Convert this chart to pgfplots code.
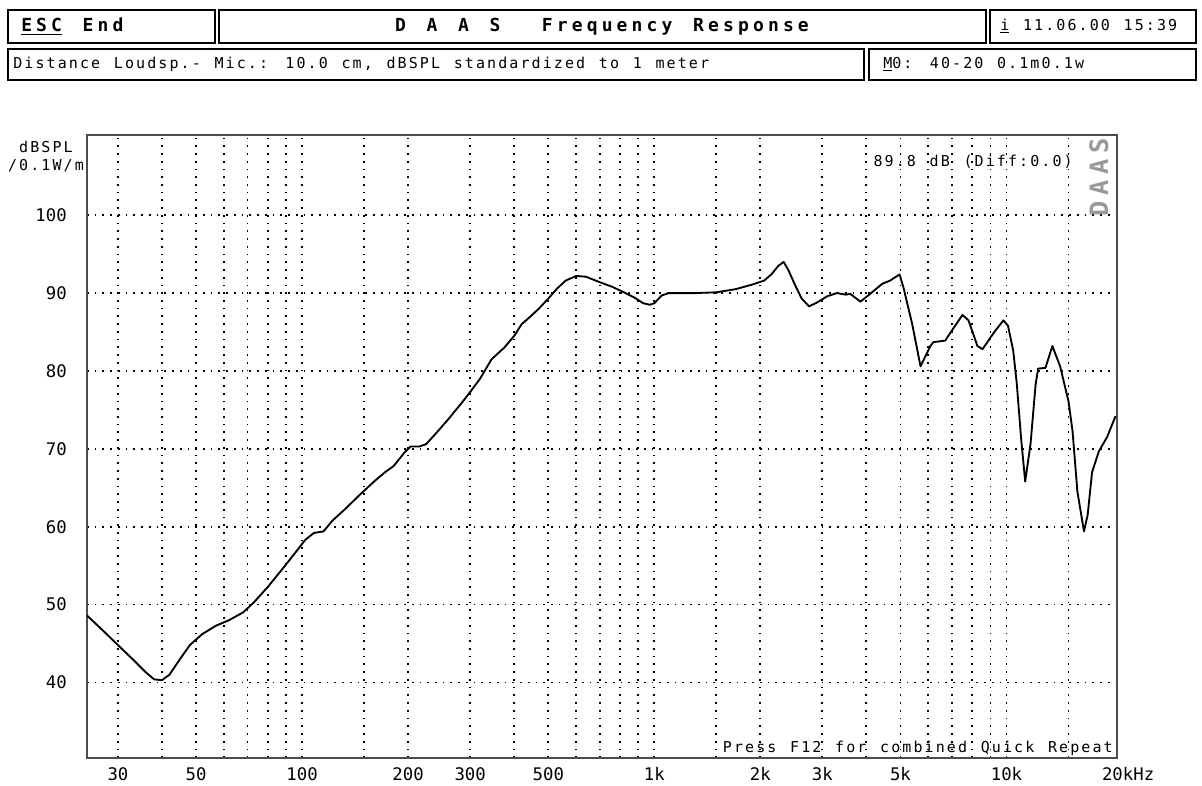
\documentclass[border=0pt]{standalone}
\usepackage{fontspec}
\setmainfont{DejaVu Sans}
\newfontfamily\ui{DejaVu Sans Mono}[LetterSpace=14,WordSpace=1.23]
\newfontfamily\uib{DejaVu Sans Mono}[LetterSpace=23,WordSpace=1.38]
\newfontfamily\tk{DejaVu Sans Mono}
\usepackage{pgfplots}
\pgfplotsset{compat=1.18}
\pgfplotstableread{
f db
24.5 48.6
27 46.8
30 44.8
33 43.0
36 41.3
38 40.4
40 40.3
42 41.0
45 43.0
48 44.8
52 46.2
57 47.3
62 48.0
68 49.0
73 50.3
80 52.3
88 54.6
95 56.5
102 58.3
108 59.2
115 59.4
122 60.8
132 62.2
145 64.0
160 65.8
172 67.0
182 67.8
195 69.5
203 70.3
215 70.3
225 70.6
240 72.0
260 73.8
285 76.0
300 77.3
320 79.0
345 81.5
375 83.0
400 84.5
420 86.0
445 87.0
470 88.0
500 89.3
530 90.6
560 91.6
600 92.2
640 92.1
700 91.4
760 90.8
820 90.1
880 89.4
930 88.7
970 88.5
1000 88.7
1050 89.7
1100 90.0
1300 90.0
1500 90.1
1700 90.5
1900 91.1
2050 91.6
2150 92.4
2250 93.5
2330 94.0
2400 93.0
2500 91.2
2620 89.3
2750 88.3
2900 88.8
3100 89.6
3300 90.0
3500 89.8
3600 89.9
3850 88.9
4100 89.9
4440 91.2
4670 91.6
4970 92.4
5100 90.7
5400 86.0
5700 80.6
6080 83.2
6200 83.7
6700 83.9
7000 85.2
7500 87.2
7800 86.5
8270 83.2
8550 82.8
9200 84.9
9800 86.5
10100 85.8
10450 82.6
10700 78.3
11000 71.4
11300 65.8
11700 70.6
12100 78.3
12300 80.3
12900 80.4
13500 83.2
14200 80.6
15000 76.1
15400 72.3
15900 64.5
16600 59.4
17000 61.5
17500 67.0
18300 69.7
19300 71.5
20400 74.2
}\resp
\begin{document}
\begin{tikzpicture}[x=0.75pt,y=-0.75pt]
\path[use as bounding box] (0,0) rectangle (1202,785);
% header boxes
\begin{scope}[line width=2.2pt]
\draw (8,10) rectangle (215,43);
\draw (219,10) rectangle (986,43);
\draw (990,10) rectangle (1196,43);
\draw (8,49) rectangle (864,80);
\draw (869,49) rectangle (1196,80);
\end{scope}
\node[anchor=west,inner sep=0pt] at (21,26.5) {\uib\bfseries\fontsize{13.5}{16}\selectfont \underline{ESC} End};
\node[inner sep=0pt] at (602,26.5) {\uib\bfseries\fontsize{13.5}{16}\selectfont D A A S\ \ Frequency Response};
\node[anchor=west,inner sep=0pt] at (1000,26.5) {\ui\fontsize{11.25}{14}\selectfont \underline{i} 11.06.00 15:39};
\node[anchor=west,inner sep=0pt] at (13,64.5) {\ui\fontsize{11.25}{14}\selectfont Distance Loudsp.- Mic.: 10.0 cm, dBSPL standardized to 1 meter};
\node[anchor=west,inner sep=0pt] at (883,64.5) {\ui\fontsize{11.25}{14}\selectfont \underline{M}0: 40-20 0.1m0.1w};
% y unit label
\node[inner sep=0pt] at (46,147) {\ui\fontsize{11.25}{14}\selectfont dBSPL};
\node[inner sep=0pt] at (46,166) {\ui\fontsize{11.25}{14}\selectfont /0.1W/m};
\begin{axis}[
  at={(65.25pt,-568.5pt)}, anchor=south west,
  width=772.5pt, height=467.25pt, scale only axis,
  xmode=log, xmin=24.5, xmax=20600, ymin=30.3, ymax=110.3,
  xtick={30,50,100,200,300,500,1000,2000,3000,5000,10000,20000},
  xticklabels={30,50,100,200,300,500,1k,2k,3k,5k,10k,20\rlap{kHz}},
  minor xtick={30,40,50,60,70,80,90,100,150,200,300,400,500,600,700,800,900,1000,1500,2000,3000,4000,5000,6000,7000,8000,9000,10000,15000},
  ytick={40,50,60,70,80,90,100},
  yticklabels={40,50,60,70,80,90,100},
  xmajorgrids=false, xminorgrids=true, ymajorgrids=true,
  major tick length=0pt, minor tick length=0pt,
  tick style={draw=none},
  grid style={black, line width=1.3pt, dash pattern=on 1.3pt off 4.5pt},
  minor grid style={black, line width=1.3pt, dash pattern=on 1.3pt off 4.5pt},
  axis line style={black!70, line width=2.2pt},
  ticklabel style={font=\tk\fontsize{13}{15}\selectfont, text=black},
  xticklabel style={anchor=north, inner sep=0pt, yshift=-7pt},
  yticklabel style={anchor=east, inner sep=0pt, xshift=-15pt},
]
\addplot[black, line width=1.4pt, line join=round] table[x=f,y=db]{\resp};
\end{axis}
\node[anchor=east,inner sep=0pt] at (1073,162) {\ui\fontsize{11.25}{14}\selectfont 89.8 dB (Diff:0.0)};
\node[rotate=90,inner sep=0pt,text=black!40] at (1099,177) {\uib\bfseries\fontsize{19}{20}\selectfont DAAS};
\node[anchor=south east,inner sep=0pt] at (1113,756) {\ui\fontsize{11.25}{14}\selectfont Press F12 for combined Quick Repeat};
\end{tikzpicture}
\end{document}
